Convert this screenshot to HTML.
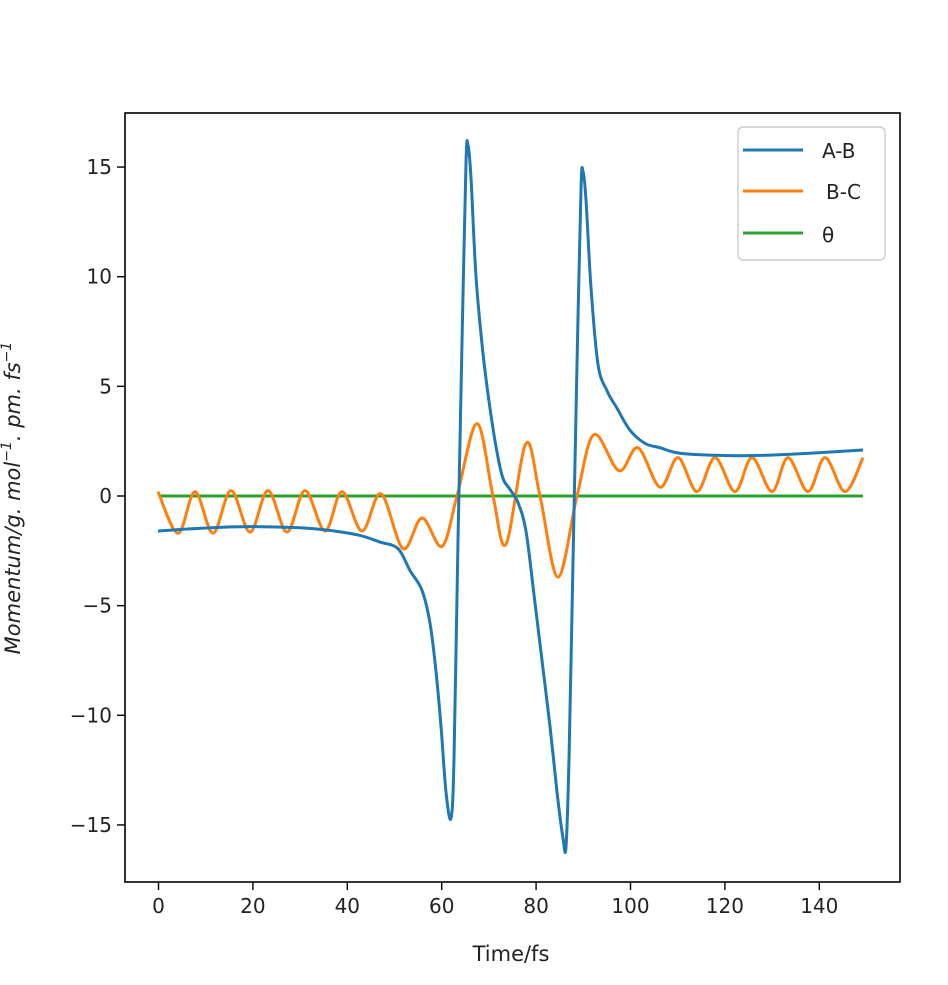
<!DOCTYPE html>
<html><head><meta charset="utf-8"><style>
html,body{margin:0;padding:0;background:#fff;}
svg text{font-family:"DejaVu Sans","Liberation Sans",sans-serif;fill:#222;}
</style></head><body>
<svg id="s" width="948" height="980" viewBox="0 0 948 980" xmlns="http://www.w3.org/2000/svg">
<rect x="0" y="0" width="948" height="980" fill="#fff"/>
<g id="plot"></g>
<rect x="125" y="113" width="775" height="769" fill="none" stroke="#000" stroke-width="1.6"/>
<g stroke="#000" stroke-width="1.4" id="ticks"></g>
<g font-size="20" id="labels"></g>
<text x="511" y="961" font-size="21" text-anchor="middle">Time/fs</text>
<text transform="translate(20,498) rotate(-90)" font-size="21" font-style="italic" text-anchor="middle">Momentum/g. mol<tspan dy="-9" font-size="14">−1</tspan><tspan dy="9">. pm. fs</tspan><tspan dy="-9" font-size="14">−1</tspan></text>
<rect x="738" y="127" width="147" height="133" rx="5" fill="#fff" stroke="#ccc" stroke-width="1.4"/>
<line x1="743" y1="150" x2="803" y2="150" stroke="#1f77b4" stroke-width="3"/>
<line x1="743" y1="191" x2="803" y2="191" stroke="#ff7f0e" stroke-width="3"/>
<line x1="743" y1="233" x2="803" y2="233" stroke="#2ca02c" stroke-width="3"/>
<text x="822" y="158" font-size="20">A-B</text>
<text x="826" y="199" font-size="20">B-C</text>
<text x="822" y="242" font-size="20">θ</text>
</svg>
<script>
const X=t=>158.5+t*4.72, Y=v=>496-v*21.93;
const ns="http://www.w3.org/2000/svg";
function el(tag,attrs,parent,txt){const e=document.createElementNS(ns,tag);for(const k in attrs)e.setAttribute(k,attrs[k]);if(txt!==undefined)e.textContent=txt;parent.appendChild(e);return e;}
const tk=document.getElementById('ticks'),lb=document.getElementById('labels');
for(let t=0;t<=140;t+=20){el('line',{x1:X(t),y1:882,x2:X(t),y2:890},tk);el('text',{x:X(t),y:913,'text-anchor':'middle'},lb,String(t));}
for(let v=-15;v<=15;v+=5){el('line',{x1:117,y1:Y(v),x2:125,y2:Y(v)},tk);el('text',{x:112,y:Y(v)+7,'text-anchor':'end'},lb,(v<0?'−':'')+Math.abs(v));}
function spline(p){let d='M'+p[0][0]+','+p[0][1];for(let i=0;i<p.length-1;i++){const p0=p[i-1]||p[i],p1=p[i],p2=p[i+1],p3=p[i+2]||p2;
const c1=[p1[0]+(p2[0]-p0[0])/6,p1[1]+(p2[1]-p0[1])/6],c2=[p2[0]-(p3[0]-p1[0])/6,p2[1]-(p3[1]-p1[1])/6];
d+=' C'+c1.join(',')+' '+c2.join(',')+' '+p2.join(',');}return d;}
const pv=a=>a.map(q=>[q[0],Y(q[1])]);
const plot=document.getElementById('plot');
el('line',{x1:158.5,y1:Y(0),x2:863,y2:Y(0),stroke:'#2ca02c','stroke-width':3},plot);
const orange=pv([[158,0.2],[178,-1.7],[195,0.2],[213,-1.7],[231,0.25],[250,-1.65],[268,0.25],[287,-1.65],[305,0.25],[325,-1.6],[342,0.2],[362,-1.6],[381,0.1],[403,-2.4],[422,-1.0],[442,-2.3],[457,0],[477,3.3],[493,0],[506,-2.2],[526,2.4],[540,0],[558,-3.7],[577,0],[594,2.8],[619,1.15],[638,2.2],[660,0.4],[678,1.75],[697,0.2],[715,1.75],[735,0.2],[752,1.75],[772,0.2],[788,1.75],[808,0.2],[825,1.75],[845,0.2],[863,1.75]]);
el('path',{d:spline(orange),fill:'none',stroke:'#ff7f0e','stroke-width':3,'stroke-linejoin':'round'},plot);
const blue=pv([[158,-1.6],[190,-1.5],[240,-1.4],[300,-1.45],[335,-1.6],[360,-1.8],[380,-2.1],[398,-2.4],[410,-3.4],[422,-4.3],[430,-5.8],[436,-8],[441,-10.5],[446,-13.5],[451,-14.7],[454,-12],[458,-2],[462,7],[466,15.2],[468,16],[471,14.5],[476,10],[483,6.5],[490,4],[497,2],[503,0.8],[510,0.3],[518,-0.3],[526,-1.6],[534,-4.5],[542,-7.5],[550,-10.5],[557,-13.5],[563,-15.6],[566,-16],[569,-12],[573,-3],[577,6],[581,14],[583,14.8],[586,13.5],[591,9.5],[598,6],[607,4.8],[617,4.0],[630,3.0],[645,2.4],[660,2.2],[680,1.95],[720,1.85],[760,1.85],[810,1.95],[863,2.1]]);
el('path',{d:spline(blue),fill:'none',stroke:'#1f77b4','stroke-width':3,'stroke-linejoin':'round'},plot);
</script>
</body></html>
